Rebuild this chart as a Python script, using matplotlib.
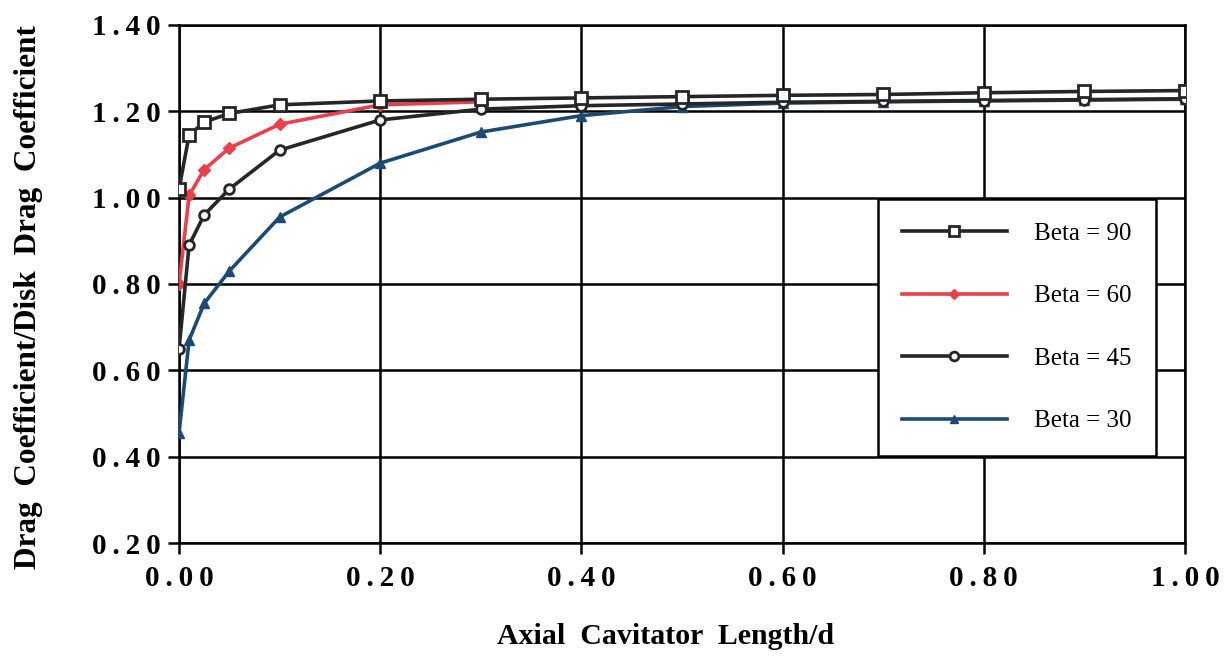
import matplotlib
matplotlib.use("Agg")
import matplotlib.pyplot as plt

# axial cavitator length / d
x_full = [0.0, 0.01, 0.025, 0.05, 0.1, 0.2, 0.3, 0.4, 0.5, 0.6, 0.7, 0.8, 0.9, 1.0]
x_short = [0.0, 0.01, 0.025, 0.05, 0.1, 0.2, 0.3]

beta90 = [1.02, 1.145, 1.175, 1.195, 1.215, 1.224, 1.228, 1.231, 1.234, 1.237, 1.239, 1.243, 1.246, 1.248]
beta60 = [0.80, 1.005, 1.065, 1.115, 1.17, 1.215, 1.222]
beta45 = [0.65, 0.89, 0.96, 1.02, 1.11, 1.18, 1.205, 1.213, 1.217, 1.221, 1.223, 1.225, 1.227, 1.229]
beta30 = [0.455, 0.67, 0.755, 0.83, 0.955, 1.08, 1.152, 1.19, 1.211, 1.219, 1.222, 1.224, 1.226, 1.228]

yticks = [0.20, 0.40, 0.60, 0.80, 1.00, 1.20, 1.40]
xticks = [0.0, 0.2, 0.4, 0.6, 0.8, 1.0]

serif = ['Liberation Serif', 'DejaVu Serif']
plt.rcParams['font.family'] = serif

black = '#262626'
red = '#e8414b'
blue = '#1d4a73'


def spaced(v):
    # the original labels are letter-spaced
    return '\u2009'.join(f'{v:.2f}')


fig = plt.figure(figsize=(12.28, 6.57), dpi=100)
ax = fig.add_axes([0.1458, 0.1735, 0.8192, 0.7885])

ax.plot(x_full, beta30, color=blue, lw=2.6, marker='^', ms=7, mfc=blue, mec=blue,
        label='Beta = 30', zorder=3)
ax.plot(x_short, beta60, color=red, lw=2.6, marker='D', ms=6, mfc=red, mec=red,
        label='Beta = 60', zorder=4)
ax.plot(x_full, beta45, color=black, lw=2.6, marker='o', ms=7, mfc='white', mec=black,
        mew=2, label='Beta = 45', zorder=5)
ax.plot(x_full, beta90, color=black, lw=2.6, marker='s', ms=8, mfc='white', mec=black,
        mew=2, label='Beta = 90', zorder=6)

ax.set_xlim(0, 1.0)
ax.set_ylim(0.2, 1.4)
ax.set_xticks(xticks)
ax.set_yticks(yticks)
ax.set_xticklabels([spaced(v) for v in xticks])
ax.set_yticklabels([spaced(v) for v in yticks])
ax.grid(True, color='black', lw=1.8)
ax.set_axisbelow(True)
for s in ax.spines.values():
    s.set_linewidth(1.8)
    s.set_color('black')
ax.tick_params(axis='both', direction='out', length=8, width=1.8, labelsize=21)
ax.tick_params(axis='x', pad=8)
ax.tick_params(axis='y', pad=5)
for lab in ax.get_xticklabels() + ax.get_yticklabels():
    lab.set_fontweight('bold')

ax.set_xlabel('Axial  Cavitator  Length/d', fontsize=21.5, fontweight='bold')
ax.set_ylabel('Drag  Coefficient/Disk  Drag  Coefficient', fontsize=22.5, fontweight='bold')
ax.xaxis.set_label_coords(0.484, -0.155)
ax.yaxis.set_label_coords(-0.135, 0.475)

handles, labels = ax.get_legend_handles_labels()
order = [3, 1, 2, 0]
leg = ax.legend([handles[i] for i in order], [labels[i] for i in order],
                loc='upper left', bbox_to_anchor=(0.695, 0.665), fontsize=18,
                handlelength=4.2, labelspacing=1.6, handletextpad=1.1,
                borderpad=0.95, borderaxespad=0, frameon=True, fancybox=False,
                framealpha=1, edgecolor='black', markerscale=0.9)
leg.get_frame().set_linewidth(1.8)

fig.savefig('out.png', dpi=100)
